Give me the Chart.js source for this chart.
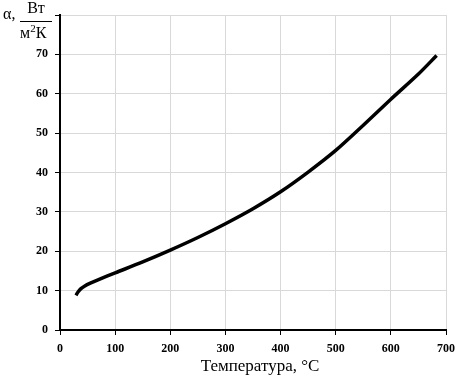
<!DOCTYPE html>
<html>
<head>
<meta charset="utf-8">
<script src="https://cdn.jsdelivr.net/npm/chart.js@4"></script>
<style>
  html, body { margin: 0; padding: 0; background: #fff; }
  #wrap { width: 458px; height: 381px; }
</style>
</head>
<body>
<div id="wrap"><canvas id="myChart" width="458" height="381"></canvas></div>
<script>
// temperature, °C
var temps = [29, 33, 38, 45, 55, 70, 100, 150, 200, 250, 300, 350, 400, 450, 500, 550, 600, 650, 683];
// heat transfer coefficient, W/(m2 K)
var alpha = [8.8, 9.7, 10.5, 11.2, 11.9, 12.8, 14.5, 17.3, 20.3, 23.5, 27.0, 30.8, 35.1, 40.1, 45.6, 52.0, 58.6, 65.0, 69.7];
var xTicks = [0, 100, 200, 300, 400, 500, 600, 700];
var yTicks = [0, 10, 20, 30, 40, 50, 60, 70, 80];

var serif = "'Liberation Serif', 'Times New Roman', serif";

// axis titles, drawn by hand (the y one is a fraction)
var axisTitles = {
    id: "axisTitles",
    afterDraw: function (chart) {
        var ctx = chart.ctx;
        ctx.save();
        ctx.fillStyle = "#000";
        ctx.strokeStyle = "#000";
        ctx.textBaseline = "middle";
        ctx.font = "16px " + serif;
        ctx.textAlign = "left";
        ctx.fillText("α,", 3, 15);
        ctx.textAlign = "center";
        ctx.fillText("Вт", 36, 9);
        ctx.lineWidth = 1;
        ctx.beginPath();
        ctx.moveTo(20, 21.5);
        ctx.lineTo(52, 21.5);
        ctx.stroke();
        ctx.textAlign = "left";
        var x = 20;
        ctx.fillText("м", x, 34);
        x += ctx.measureText("м").width;
        ctx.font = "11px " + serif;
        ctx.fillText("2", x, 29);
        x += ctx.measureText("2").width;
        ctx.font = "16px " + serif;
        ctx.fillText("К", x, 34);

        ctx.font = "17px " + serif;
        ctx.textAlign = "center";
        ctx.fillText("Температура, °С", 260, 367);
        ctx.restore();
    }
};

var ctx = document.getElementById("myChart");
var myChart = new Chart(ctx, {
    type: "line",
    data: {
        datasets: [
            {
                data: temps.map(function (t, i) { return { x: t, y: alpha[i] }; }),
                borderColor: "#000",
                borderWidth: 3.5,
                pointRadius: 0,
                tension: 0.3,
                fill: false,
            },
        ],
    },
    options: {
        responsive: false,
        animation: false,
        layout: { padding: { top: 15, right: 12, left: 0, bottom: 0 } },
        plugins: {
            legend: { display: false },
            tooltip: { enabled: false },
        },
        scales: {
            x: {
                type: "linear",
                min: 0,
                max: 700,
                afterFit: function (s) { s.height = 51; s.paddingRight = 0; s.paddingLeft = 0; },
                afterBuildTicks: function (s) { s.ticks = xTicks.map(function (v) { return { value: v }; }); },
                grid: { color: "#d9d9d9", tickColor: "#000", tickLength: 5 },
                border: { color: "#000", width: 2 },
                ticks: {
                    color: "#000",
                    padding: 7,
                    maxRotation: 0,
                    font: { family: serif, size: 12, weight: "bold" },
                },
            },
            y: {
                min: 0,
                max: 80,
                afterFit: function (s) { s.width = 60; s.paddingTop = 0; s.paddingBottom = 0; },
                afterBuildTicks: function (s) { s.ticks = yTicks.map(function (v) { return { value: v }; }); },
                grid: { color: "#d9d9d9", tickColor: "#000", tickLength: 5 },
                border: { color: "#000", width: 2 },
                ticks: {
                    color: "#000",
                    padding: 7,
                    callback: function (v) { return v === 80 ? "" : v; },
                    font: { family: serif, size: 12, weight: "bold" },
                },
            },
        },
    },
    plugins: [axisTitles],
});
</script>
</body>
</html>
